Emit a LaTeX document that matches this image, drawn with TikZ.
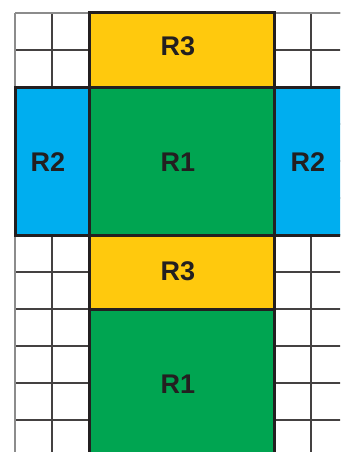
\documentclass[tikz,border=0pt]{standalone}
\usepackage{fontspec}
\setmainfont{Liberation Sans}
\definecolor{ryellow}{HTML}{FFC90D}
\definecolor{rgreen}{HTML}{00A551}
\definecolor{rblue}{HTML}{00AEEF}
\definecolor{rink}{HTML}{231F20}
\begin{document}
\begin{tikzpicture}[x=1pt,y=-1pt,
  gridline/.style={draw=rink!85,line width=1.4pt},
  outerline/.style={draw=black!45,line width=1.4pt},
  region/.style={draw=rink,line width=3pt,line join=miter},
  lab/.style={font=\fontsize{27}{27}\bfseries\selectfont,text=rink,inner sep=0pt}]
\useasboundingbox (0,0) rectangle (340,452);
\clip (0,0) rectangle (340,452);
\fill[white] (0,0) rectangle (340,452);
% grid
\foreach \yy in {13,50,...,457} {\draw[gridline] (15,\yy) -- (360,\yy);}
\foreach \xx in {15,52,89,274,311,348} {\draw[gridline] (\xx,13) -- (\xx,470);}
\draw[outerline] (15,13) -- (15,470);
\draw[outerline] (15,13) -- (89,13);
\draw[outerline] (274,13) -- (360,13);
% regions
\filldraw[region,fill=ryellow] (89,13) rectangle (274,87);
\filldraw[region,fill=rgreen] (89,87) rectangle (274,235);
\filldraw[region,fill=rblue] (15,87) rectangle (89,235);
\filldraw[region,fill=rblue] (274,87) rectangle (350,235);
\filldraw[region,fill=ryellow] (89,235) rectangle (274,309);
\filldraw[region,fill=rgreen] (89,309) rectangle (274,470);
% labels
\node[lab] (r3a) at (178,46) {R3};
\node[lab] (r1a) at (178,162) {R1};
\node[lab] (r2a) at (48,162) {R2};
\node[lab] (r2b) at (308,162) {R2};
\node[lab] (r3b) at (178,271) {R3};
\node[lab] (r1b) at (178,384) {R1};
\end{tikzpicture}
\end{document}
